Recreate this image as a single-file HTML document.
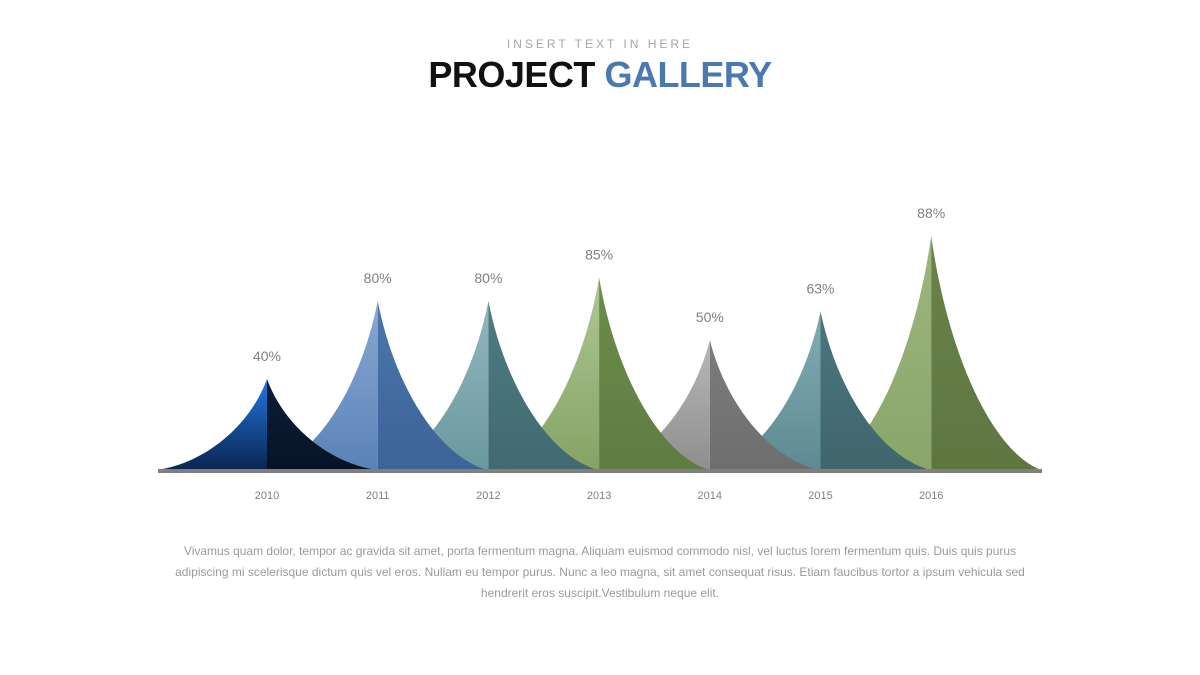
<!DOCTYPE html>
<html><head><meta charset="utf-8"><style>
body{margin:0;width:1200px;height:675px;background:#fff;font-family:"Liberation Sans",sans-serif;overflow:hidden;position:relative}
.sub{position:absolute;top:37px;left:0;width:1200px;text-align:center;font-size:12px;letter-spacing:3px;color:#a6a6a6}
.title{position:absolute;top:54px;left:0;width:1200px;text-align:center;font-size:36px;font-weight:bold;color:#111;letter-spacing:-0.5px}
.title span{color:#4a78b0}
.para{position:absolute;top:541px;left:163px;width:874px;text-align:center;font-size:12px;line-height:21px;color:#9a9a9a}
svg{position:absolute;left:0;top:0}
</style></head><body>
<div class="sub">INSERT TEXT IN HERE</div>
<div class="title">PROJECT <span>GALLERY</span></div>
<svg id="chart" width="1200" height="675"></svg>
<div class="para">Vivamus quam dolor, tempor ac gravida sit amet, porta fermentum magna. Aliquam euismod commodo nisl, vel luctus lorem fermentum quis. Duis quis purus adipiscing mi scelerisque dictum quis vel eros. Nullam eu tempor purus. Nunc a leo magna, sit amet consequat risus. Etiam faucibus tortor a ipsum vehicula sed hendrerit eros suscipit.Vestibulum neque elit.</div>
<script>
const categories=["2010","2011","2012","2013","2014","2015","2016"];
const values=[35,65,65,74,50,61,90];
const labels=["40%","80%","80%","85%","50%","63%","88%"];
const leftColors=[["#1f78e0","#0b2550"],["#8aa9d2","#5a82b8"],["#93b8bd","#6a989e"],["#afc796","#86a364"],["#b8b8b8","#8e8e8e"],["#84adb5","#5d8a92"],["#9db67f","#8aa66a"]];
const rightColors=[["#0c1d38","#071426"],["#4a76ac","#3d6399"],["#4d7c82","#416a70"],["#6c8c4c","#5f7d42"],["#7c7c7c","#6e6e6e"],["#4b767d","#40666c"],["#6a8349","#5f7641"]];
const NS="http://www.w3.org/2000/svg";
const svg=document.getElementById('chart');
const base=470, x0=267, step=110.7, hw=110;
const xs=i=>x0+i*step;
const ys=v=>base-v*2.6;
const defs=document.createElementNS(NS,'defs');svg.appendChild(defs);
function grad(id,c){const g=document.createElementNS(NS,'linearGradient');g.id=id;g.setAttribute('x1','0');g.setAttribute('y1','0');g.setAttribute('x2','0');g.setAttribute('y2','1');
g.innerHTML=`<stop offset="0" stop-color="${c[0]}"/><stop offset="1" stop-color="${c[1]}"/>`;defs.appendChild(g);}
for(let i=categories.length-1;i>=0;i--){
 const c=categories[i];
 const x=xs(i),t=ys(values[i]),h=base-t;
 grad('gl'+i,leftColors[i]);grad('gr'+i,rightColors[i]);
 const pl=document.createElementNS(NS,'path');
 pl.setAttribute('d',`M${x-hw},${base} C${x-hw*0.55},${base-h*0.08} ${x-hw*0.15},${base-h*0.5} ${x},${t} L${x},${base} Z`);
 pl.setAttribute('fill',`url(#gl${i})`);
 
 
 svg.appendChild(pl);
 const pr=document.createElementNS(NS,'path');
 pr.setAttribute('d',`M${x+hw},${base} C${x+hw*0.55},${base-h*0.08} ${x+hw*0.15},${base-h*0.5} ${x},${t} L${x},${base} Z`);
 pr.setAttribute('fill',`url(#gr${i})`);
 
 
 svg.appendChild(pr);
 const lt=document.createElementNS(NS,'text');
 lt.setAttribute('x',x);lt.setAttribute('y',t-18);lt.setAttribute('text-anchor','middle');
 lt.setAttribute('font-size','14');lt.setAttribute('fill','#7f7f7f');lt.textContent=labels[i];
 
 
 svg.appendChild(lt);
 const ct=document.createElementNS(NS,'text');
 ct.setAttribute('x',x);ct.setAttribute('y',499);ct.setAttribute('text-anchor','middle');
 ct.setAttribute('font-size','11');ct.setAttribute('fill','#7f7f7f');ct.textContent=c;
 
 
 svg.appendChild(ct);
}
const ax=document.createElementNS(NS,'rect');
ax.setAttribute('x',158);ax.setAttribute('y',469);ax.setAttribute('width',884);ax.setAttribute('height',4);ax.setAttribute('fill','#7f7f7f');


svg.appendChild(ax);
</script>
</body></html>
